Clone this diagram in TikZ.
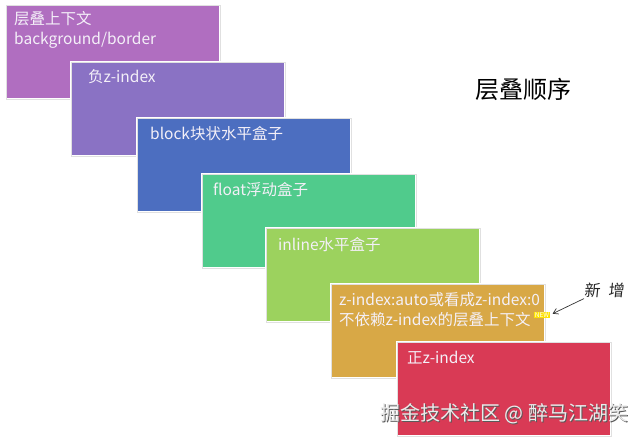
\documentclass[tikz,border=0pt]{standalone}
\usepackage{fontspec}
\setmainfont{Noto Sans CJK SC}
\usetikzlibrary{arrows.meta}
\definecolor{cA}{HTML}{B06EC0}
\definecolor{cB}{HTML}{8A72C4}
\definecolor{cC}{HTML}{4C6EC0}
\definecolor{cD}{HTML}{50CB8C}
\definecolor{cE}{HTML}{9CD25E}
\definecolor{cF}{HTML}{D8A846}
\definecolor{cG}{HTML}{D93A55}
\definecolor{txt}{HTML}{F4F0F8}
\tikzset{
  layer/.style={draw=white, line width=2pt, anchor=north west, minimum width=214pt, minimum height=94pt, inner sep=0pt, outer sep=0pt,
     postaction={draw=black!12, line width=0.6pt}},
  lbl/.style={anchor=west, text=txt, font=\fontsize{15.5}{20}\selectfont, inner sep=0pt, align=left},
  wmark/.style={anchor=west, font=\fontsize{20}{22}\selectfont, inner sep=0pt},
}
\begin{document}
\begin{tikzpicture}[x=1pt,y=-1pt]
\useasboundingbox[fill=white] (0,0) rectangle (643,445);
\node[layer, fill=cA] (b1) at (6,5) {};
\node[lbl, anchor=north west] (t1) at (14,11) {层叠上下文\\background/border};
\node[layer, fill=cB] (b2) at (71,62) {};
\node[lbl] (t2) at (88,77) {负z-index};
\node[layer, fill=cC] (b3) at (137,118) {};
\node[lbl] (t3) at (150,134) {block块状水平盒子};
\node[layer, fill=cD] (b4) at (202,174) {};
\node[lbl] (t4) at (213,190) {float浮动盒子};
\node[layer, fill=cE] (b5) at (266,228) {};
\node[lbl] (t5) at (278,245) {inline水平盒子};
\node[layer, fill=cF] (b6) at (331,284) {};
\node[lbl, anchor=north west] (t6) at (339,292) {z-index:auto或看成z-index:0\\不依赖z-index的层叠上下文};
\node[fill=yellow!85!orange, text=white, font=\fontsize{6.5}{6.5}\selectfont, inner sep=0.6pt, anchor=west] (new) at (534,315) {NEW};
\node[layer, fill=cG] (b7) at (397,342) {};
\node[lbl] (t7) at (407,358) {正z-index};
\node[anchor=west, font=\fontsize{24}{28}\selectfont, inner sep=0pt] (title) at (475,89) {层叠顺序};
\node[anchor=west, font=\fontsize{16}{18}\selectfont\addfontfeature{FakeSlant=0.1}, inner sep=0pt, text=black!85] (xz) at (584,290) {新\,\,\,增};
\draw[-{Straight Barb[length=5pt,width=6pt]}, line width=0.7pt, black!80, shorten >=3pt] ([shift={(0,1)}]xz.south west) -- (new.east);
\node[wmark, text=black!65] (wms) at (381,414.8) {掘金技术社区 @ 醉马江湖笑};
\node[wmark, text=white!92!black] (wm) at (380,414) {掘金技术社区 @ 醉马江湖笑};
\end{tikzpicture}
\end{document}
